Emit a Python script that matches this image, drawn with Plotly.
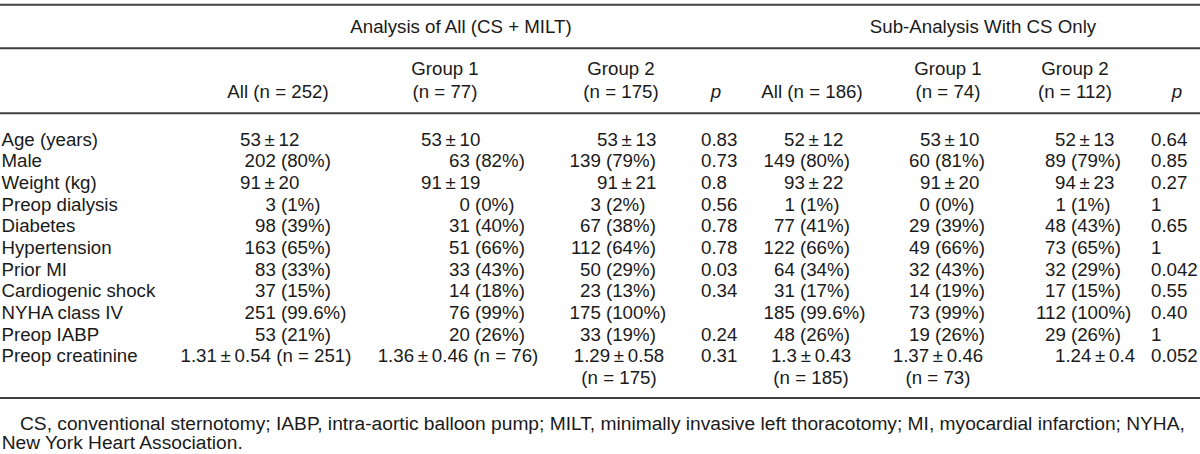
import plotly.graph_objects as go

# ---------------- data ----------------
row_labels = ["Age (years)", "Male", "Weight (kg)", "Preop dialysis", "Diabetes",
              "Hypertension", "Prior MI", "Cardiogenic shock", "NYHA class IV",
              "Preop IABP", "Preop creatinine"]

all_all = ["53 ± 12", "202 (80%)", "91 ± 20", "3 (1%)", "98 (39%)", "163 (65%)",
           "83 (33%)", "37 (15%)", "251 (99.6%)", "53 (21%)", "1.31 ± 0.54 (n = 251)"]
all_g1 = ["53 ± 10", "63 (82%)", "91 ± 19", "0 (0%)", "31 (40%)", "51 (66%)",
          "33 (43%)", "14 (18%)", "76 (99%)", "20 (26%)", "1.36 ± 0.46 (n = 76)"]
all_g2 = ["53 ± 13", "139 (79%)", "91 ± 21", "3 (2%)", "67 (38%)", "112 (64%)",
          "50 (29%)", "23 (13%)", "175 (100%)", "33 (19%)", "1.29 ± 0.58\n(n = 175)"]
all_p = ["0.83", "0.73", "0.8", "0.56", "0.78", "0.78", "0.03", "0.34", "", "0.24", "0.31"]

cs_all = ["52 ± 12", "149 (80%)", "93 ± 22", "1 (1%)", "77 (41%)", "122 (66%)",
          "64 (34%)", "31 (17%)", "185 (99.6%)", "48 (26%)", "1.3 ± 0.43\n(n = 185)"]
cs_g1 = ["53 ± 10", "60 (81%)", "91 ± 20", "0 (0%)", "29 (39%)", "49 (66%)",
         "32 (43%)", "14 (19%)", "73 (99%)", "19 (26%)", "1.37 ± 0.46\n(n = 73)"]
cs_g2 = ["52 ± 13", "89 (79%)", "94 ± 23", "1 (1%)", "48 (43%)", "73 (65%)",
         "32 (29%)", "17 (15%)", "112 (100%)", "29 (26%)", "1.24 ± 0.4"]
cs_p = ["0.64", "0.85", "0.27", "1", "0.65", "1", "0.042", "0.55", "0.40", "1", "0.052"]

group_headers = ["Analysis of All (CS + MILT)", "Sub-Analysis With CS Only"]
col_headers = [["", "All (n = 252)"], ["Group 1", "(n = 77)"], ["Group 2", "(n = 175)"],
               ["", "<i>p</i>"], ["", "All (n = 186)"], ["Group 1", "(n = 74)"],
               ["Group 2", "(n = 112)"], ["", "<i>p</i>"]]
footnote = ["CS, conventional sternotomy; IABP, intra-aortic balloon pump; MILT, minimally "
            "invasive left thoracotomy; MI, myocardial infarction; NYHA,",
            "New York Heart Association."]

value_columns = [all_all, all_g1, all_g2, all_p, cs_all, cs_g1, cs_g2, cs_p]

# ---------------- layout constants ----------------
W, H = 1200, 454
FONT = "Liberation Sans, Arial, Helvetica, sans-serif"
FS = 18.7
FS_NOTE = 19.2
TXT = "#1a1a1a"
RULE = "#404040"
ROW0 = 145.7      # baseline of first body row
ROW_H = 21.65
SHIFT = 0.25      # plotly: baseline = y + SHIFT*fontsize for 'middle'

# column geometry: paren anchor for "n (x%)", left start for mean +/- sd, centre for wide cells
col_geom = [
    dict(kind="v", paren=281, mean=240, ctr=266),
    dict(kind="v", paren=475, mean=421, ctr=458),
    dict(kind="v", paren=606, mean=597, ctr=619),
    dict(kind="p", left=701),
    dict(kind="v", paren=800, mean=784, ctr=811),
    dict(kind="v", paren=935, mean=920, ctr=938),
    dict(kind="v", paren=1071, mean=1055, ctr=1080),
    dict(kind="p", left=1151),
]
header_ctr = [278, 445, 621, 716, 812, 948, 1075, 1177]
group_ctr = [461, 983]
HDR_GROUP_BASE = 32.5
HDR_L1_BASE = 75.0
HDR_L2_BASE = 97.5
rules_y = [4.7, 48.3, 113.3, 398.0]
NOTE_BASE = [430.0, 449.5]
NOTE_X = [20, 1.7]

THIN = "\u2009"


def ymid(baseline, fs=FS):
    return baseline - SHIFT * fs


xs, ys, ts, ps = [], [], [], []


def add(x, baseline, text, pos):
    xs.append(x)
    ys.append(ymid(baseline))
    ts.append(text)
    ps.append(pos)


def fmt(s):
    return s.replace(" ± ", THIN + "±" + THIN)


# row labels
for i, lab in enumerate(row_labels):
    add(1.5, ROW0 + i * ROW_H, lab, "middle right")

# body cells
space_w = 0.278 * FS
for col, g in zip(value_columns, col_geom):
    for i, cell in enumerate(col):
        if not cell:
            continue
        base = ROW0 + i * ROW_H
        if g["kind"] == "p":
            add(g["left"], base, cell, "middle right")
            continue
        lines = cell.split("\n")
        if len(lines) == 1 and "%" in cell and " (" in cell:
            num, pct = cell.split(" (", 1)
            add(g["paren"] - space_w, base, num, "middle left")
            add(g["paren"], base, "(" + pct, "middle right")
        elif len(lines) == 1 and "(n =" not in cell:
            add(g["mean"], base, fmt(cell), "middle right")
        else:
            for k, ln in enumerate(lines):
                add(g["ctr"], base + k * ROW_H, fmt(ln), "middle center")

# column headers
for cx, (l1, l2) in zip(header_ctr, col_headers):
    if l1:
        add(cx, HDR_L1_BASE, l1, "middle center")
    add(cx, HDR_L2_BASE, l2, "middle center")

# group headers
for cx, t in zip(group_ctr, group_headers):
    add(cx, HDR_GROUP_BASE, t, "middle center")

fig = go.Figure()
fig.add_trace(go.Scatter(
    x=xs, y=ys, text=ts, mode="text", textposition=ps,
    textfont=dict(family=FONT, size=FS, color=TXT),
    hoverinfo="skip", showlegend=False, cliponaxis=False))

# footnote
fig.add_trace(go.Scatter(
    x=NOTE_X, y=[ymid(b, FS_NOTE) for b in NOTE_BASE], text=footnote,
    mode="text", textposition="middle right",
    textfont=dict(family=FONT, size=FS_NOTE, color=TXT),
    hoverinfo="skip", showlegend=False, cliponaxis=False))

for ry in rules_y:
    fig.add_shape(type="line", xref="x", yref="y", x0=0, x1=W, y0=ry, y1=ry,
                  line=dict(color=RULE, width=2))

fig.update_layout(
    width=W, height=H, margin=dict(l=0, r=0, t=0, b=0),
    paper_bgcolor="white", plot_bgcolor="white",
    xaxis=dict(range=[0, W], visible=False, fixedrange=True),
    yaxis=dict(range=[H, 0], visible=False, fixedrange=True),
)

fig.write_html(
    "out.html",
    config={"displayModeBar": False, "staticPlot": True},
    post_script="document.body.style.margin='0';document.body.style.padding='0';"
                "document.documentElement.style.overflow='hidden';",
)
